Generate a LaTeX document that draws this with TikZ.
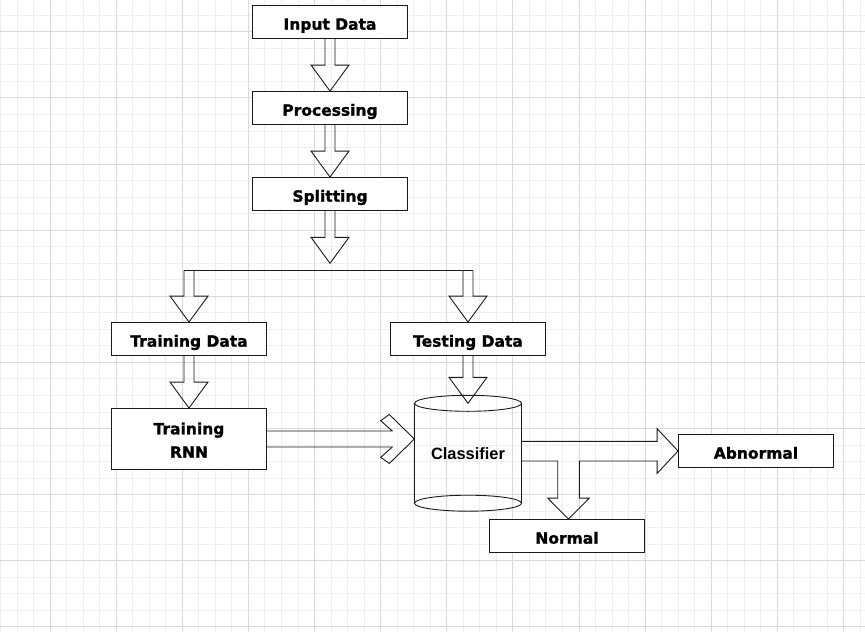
\documentclass[tikz,border=0pt]{standalone}
\usepackage{fontspec}
\setmainfont{DejaVu Sans}[BoldFeatures={FakeBold=1.3}]
\newfontfamily\arialfont{Liberation Sans}
\usepackage{tikz}
\usetikzlibrary{calc}

\definecolor{gridmin}{HTML}{EEEEEE}
\definecolor{gridmaj}{HTML}{DADADA}
\definecolor{linecol}{HTML}{1A1A24}

\tikzset{
	box/.style={draw=linecol,line width=0.9pt,fill=white,minimum width=155pt,minimum height=33pt,inner sep=0pt,
		text height=15.4pt,text depth=0pt,font=\fontsize{15.5}{23.4}\selectfont\bfseries,align=center},
	hollow/.style={draw=linecol,line width=0.9pt,line join=miter},
}

\newcommand{\hollowdown}[2]{%
	\draw[hollow] ($(#1)+(-5,0)$) -- ($(#2)+(-5,-26)$) -- ($(#2)+(-19,-26)$) -- (#2)
		-- ($(#2)+(19,-26)$) -- ($(#2)+(5,-26)$) -- ($(#1)+(5,0)$);}

\begin{document}
\begin{tikzpicture}[x=1pt,y=-1pt]
			\useasboundingbox[fill=white] (0,0) rectangle (865,632);
			
			\foreach \k in {0,...,52} \draw[gridmin,line width=0.8pt] ({0.4+16.53*\k},0) -- ({0.4+16.53*\k},632);
			\foreach \k in {1,...,38} \draw[gridmin,line width=0.8pt] (0,{-1.3+16.53*\k}) -- (865,{-1.3+16.53*\k});
			\foreach \k in {3,7,...,51} \draw[gridmaj,line width=0.8pt] ({0.4+16.53*\k},0) -- ({0.4+16.53*\k},632);
			\foreach \k in {2,6,...,38} \draw[gridmaj,line width=0.8pt] (0,{-1.3+16.53*\k}) -- (865,{-1.3+16.53*\k});
			
			\node[box] (input) at (330,22) {Input Data};
			\node[box] (processing) at (330,108) {Processing};
			\node[box] (splitting) at (330,194) {Splitting};
			\node[box] (trdata) at (189,339) {Training Data};
			\node[box] (tedata) at (468,339) {Testing Data};
			\node[box,minimum height=61pt,text height=37.4pt,text depth=0pt] (rnn) at (189,439) {Training\\RNN};
			\node[box] (abnormal) at (756,451) {Abnormal};
			\node[box] (normal) at (567,536) {Normal};
			
			\node[inner sep=0pt,minimum width=107pt,minimum height=99.5pt,font=\arialfont\fontsize{16.4}{19}\selectfont\bfseries] (clf) at (468,453.25) {Classifier};
			\draw[hollow] (clf.north west) -- (clf.south west);
			\draw[hollow] (clf.north east) -- (clf.south east);
			\draw[hollow] (clf.north) ellipse [x radius=53.5pt,y radius=8pt];
			\draw[hollow] (clf.south) ellipse [x radius=53.5pt,y radius=8pt];
			
			\hollowdown{input.south}{processing.north}
			\hollowdown{processing.south}{splitting.north}
			\coordinate (fork) at (330,263.3);
			\hollowdown{splitting.south}{fork}
			
			\coordinate (bar) at (330,270.3);
			\coordinate (trtop) at (trdata.north |- bar);
			\coordinate (tetop) at (tedata.north |- bar);
			\draw[hollow] ($(trtop)+(-5,0)$) -- ($(tetop)+(5,0)$);
			\hollowdown{trtop}{trdata.north}
			\hollowdown{tetop}{tedata.north}
			\hollowdown{trdata.south}{rnn.north}
			\hollowdown{tedata.south}{clf.north}
			
			\coordinate (rtip) at (clf.west |- rnn.east);
			\draw[hollow] ($(rnn.east)+(0,-8)$) -- ($(rtip)+(-22,-8)$) -- ($(rtip)+(-33.6,-18.3)$) -- ($(rtip)+(-25,-24.5)$) -- (rtip)
				-- ($(rtip)+(-25,24.5)$) -- ($(rtip)+(-33.6,18.3)$) -- ($(rtip)+(-22,8)$) -- ($(rnn.east)+(0,8)$);
			
			\coordinate (atip) at (abnormal.west);
			\coordinate (ntip) at ($(normal.north)+(1.5,0)$);
			\coordinate (abot) at ($(atip)+(-21,10)$);
			\draw[hollow] ($(clf.east |- atip)+(0,-9.7)$) -- ($(atip)+(-21,-9.7)$) -- ($(atip)+(-21,-22.4)$) -- (atip)
				-- ($(atip)+(-21,22.4)$) -- (abot) -- ($(ntip |- abot)+(10.8,0)$) -- ($(ntip)+(10.8,-21)$)
				-- ($(ntip)+(20.8,-21)$) -- (ntip) -- ($(ntip)+(-20.8,-21)$) -- ($(ntip)+(-10.8,-21)$)
				-- ($(ntip |- abot)+(-10.8,0)$) -- (clf.east |- abot);
			
		\end{tikzpicture}
\end{document}
